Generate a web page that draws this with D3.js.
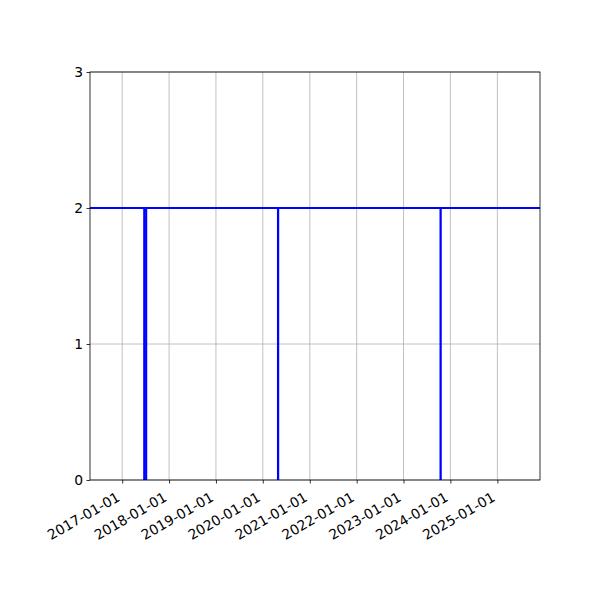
<!DOCTYPE html>
<html><head><meta charset="utf-8">
<script src="https://cdn.jsdelivr.net/npm/d3@7"></script>
<style>body{margin:0;background:#fff}svg{display:block}text{font-family:"DejaVu Sans",sans-serif}</style>
</head><body>
<svg id="c" width="600" height="600"></svg>
<script>
// Step series: value holds from each date until the next
const dates = ["2016-01-01","2017-06-21","2017-07-07","2020-04-28","2020-04-30","2023-10-16","2023-10-18","2026-06-01"];
const values = [2, 0, 2, 0, 2, 0, 2, 2];
const xTickLabels = ["2017-01-01","2018-01-01","2019-01-01","2020-01-01","2021-01-01","2022-01-01","2023-01-01","2024-01-01","2025-01-01"];
const yTicks = [0, 1, 2, 3];
const xDomain = ["2016-04-25","2025-11-29"];

const parse = d3.utcParse("%Y-%m-%d");
const data = dates.map((d, i) => ({date: parse(d), value: values[i]}));

const L = 90, R = 540, T = 72, B = 480;
const svg = d3.select("#c");
const x = d3.scaleUtc().domain(xDomain.map(parse)).range([L, R]);
const y = d3.scaleLinear().domain([0, 3]).range([B, T]);

svg.append("defs").append("clipPath").attr("id","clip")
  .append("rect").attr("x",L).attr("y",T).attr("width",R-L).attr("height",B-T);

const xt = xTickLabels.map(parse);
// grid
svg.append("g").selectAll("line").data(xt).join("line")
  .attr("x1",d=>x(d)).attr("x2",d=>x(d)).attr("y1",T).attr("y2",B)
  .attr("stroke","#b0b0b0").attr("stroke-width",0.8);
svg.append("g").selectAll("line").data(yTicks).join("line")
  .attr("x1",L).attr("x2",R).attr("y1",d=>y(d)).attr("y2",d=>y(d))
  .attr("stroke","#b0b0b0").attr("stroke-width",0.8);

// line
const line = d3.line().x(d=>x(d.date)).y(d=>y(d.value)).curve(d3.curveStepAfter);
svg.append("path").datum(data).attr("d",line).attr("clip-path","url(#clip)")
  .attr("fill","none").attr("stroke","#0000ff").attr("stroke-width",2);

// axes
const xAxis = svg.append("g").attr("transform",`translate(0,${B})`)
  .call(d3.axisBottom(x).tickValues(xt).tickSize(3.5).tickSizeOuter(0).tickFormat(d3.utcFormat("%Y-%m-%d")));
xAxis.select(".domain").remove();
xAxis.selectAll(".tick line").attr("stroke","#000").attr("stroke-width",0.8);
xAxis.selectAll(".tick text")
  .attr("font-size","13.89px").attr("fill","#000")
  .attr("text-anchor","end").attr("dy",null).attr("y",null)
  .attr("transform","translate(-1.8,20) rotate(-30)");

const yAxis = svg.append("g").attr("transform",`translate(${L},0)`)
  .call(d3.axisLeft(y).tickValues(yTicks).tickSize(3.5).tickSizeOuter(0).tickFormat(d3.format("d")));
yAxis.select(".domain").remove();
yAxis.selectAll(".tick line").attr("stroke","#000").attr("stroke-width",0.8);
yAxis.selectAll(".tick text").attr("font-size","13.89px").attr("fill","#000").attr("x",-7).attr("dy","0.35em");

// spines
svg.append("rect").attr("x",L).attr("y",T).attr("width",R-L).attr("height",B-T)
  .attr("fill","none").attr("stroke","#000").attr("stroke-width",0.8);
</script>
</body></html>
